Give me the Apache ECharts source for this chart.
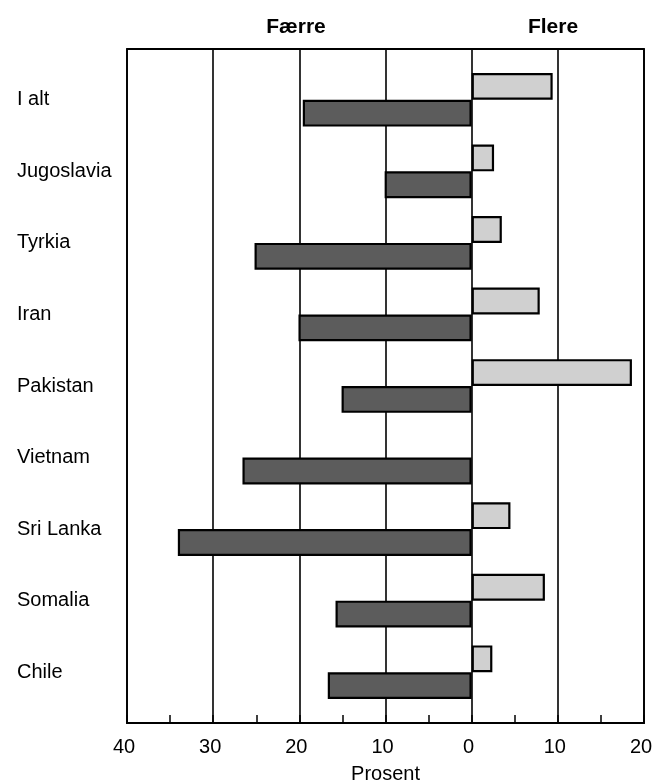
<!DOCTYPE html>
<html>
<head>
<meta charset="utf-8">
<script src="https://cdn.jsdelivr.net/npm/echarts@6/dist/echarts.min.js"></script>
<style>
  html, body { margin: 0; padding: 0; background: #fff; }
  #chart { width: 653px; height: 784px; }
</style>
</head>
<body>
<div id="chart"></div>
<script>
const categories = ['I alt', 'Jugoslavia', 'Tyrkia', 'Iran', 'Pakistan', 'Vietnam', 'Sri Lanka', 'Somalia', 'Chile'];
// share of people with more (Flere) / fewer (Færre), percent
const flere = [9.4, 2.6, 3.5, 7.9, 18.6, null, 4.5, 8.5, 2.4];
const faerre = [19.6, 10.1, 25.2, 20.1, 15.1, 26.6, 34.1, 15.8, 16.7];
const xTicks = [-40, -30, -20, -10, 0, 10, 20];

const font = "'Liberation Sans', Arial, sans-serif";
const chart = echarts.init(document.getElementById('chart'));

const xMin = xTicks[0];
const xMax = xTicks[xTicks.length - 1];

chart.setOption({
  animation: false,
  grid: [
    // frame, gridlines and the value axis
    { left: 127, right: 9, top: 49, bottom: 61, outerBoundsMode: 'none', containLabel: false,
      show: true, borderColor: '#000', borderWidth: 1.8 },
    // the category band sits a little inside the frame
    { left: 127, right: 9, top: 64, bottom: 76, outerBoundsMode: 'none', containLabel: false }
  ],
  graphic: [
    { type: 'text', x: 296, y: 27, style: { text: 'Færre', font: 'bold 21px ' + font, fill: '#000', align: 'center', verticalAlign: 'middle' } },
    { type: 'text', x: 553, y: 27, style: { text: 'Flere', font: 'bold 21px ' + font, fill: '#000', align: 'center', verticalAlign: 'middle' } }
  ],
  xAxis: [
    {
      gridIndex: 0,
      type: 'value',
      min: xMin,
      max: xMax,
      interval: 10,
      name: 'Prosent',
      nameLocation: 'middle',
      nameGap: 41,
      nameTextStyle: { color: '#000', fontSize: 20, fontFamily: font },
      axisLine: { show: true, lineStyle: { color: '#000', width: 1.8 } },
      axisTick: { show: true, inside: true, length: 8, lineStyle: { color: '#000', width: 1.5 } },
      minorTick: { show: true, splitNumber: 2, length: 8, lineStyle: { color: '#000', width: 1.5 } },
      axisLabel: {
        color: '#000',
        fontSize: 20,
        fontFamily: font,
        margin: 14,
        padding: [0, 6, 0, 0],
        formatter: v => String(Math.abs(v))
      },
      splitLine: { show: true, lineStyle: { color: '#000', width: 1.6 } }
    },
    {
      gridIndex: 1,
      type: 'value',
      min: xMin,
      max: xMax,
      interval: 10,
      show: false,
      splitLine: { show: false }
    }
  ],
  yAxis: [
    { gridIndex: 0, type: 'value', show: false, splitLine: { show: false } },
    {
      gridIndex: 1,
      type: 'category',
      data: categories,
      inverse: true,
      axisLine: { show: false },
      axisTick: { show: false },
      axisLabel: {
        color: '#000',
        fontSize: 20,
        fontFamily: font,
        align: 'left',
        margin: 110
      }
    }
  ],
  series: [
    {
      name: 'Flere',
      type: 'bar',
      xAxisIndex: 1,
      yAxisIndex: 1,
      data: flere,
      barGap: '0%',
      barCategoryGap: '25%',
      itemStyle: { color: '#d0d0d0', borderColor: '#000', borderWidth: 2.2 }
    },
    {
      name: 'Færre',
      type: 'bar',
      xAxisIndex: 1,
      yAxisIndex: 1,
      data: faerre.map(v => -v),
      barGap: '0%',
      barCategoryGap: '25%',
      itemStyle: { color: '#5c5c5c', borderColor: '#000', borderWidth: 2.2 }
    }
  ]
});
</script>
</body>
</html>
